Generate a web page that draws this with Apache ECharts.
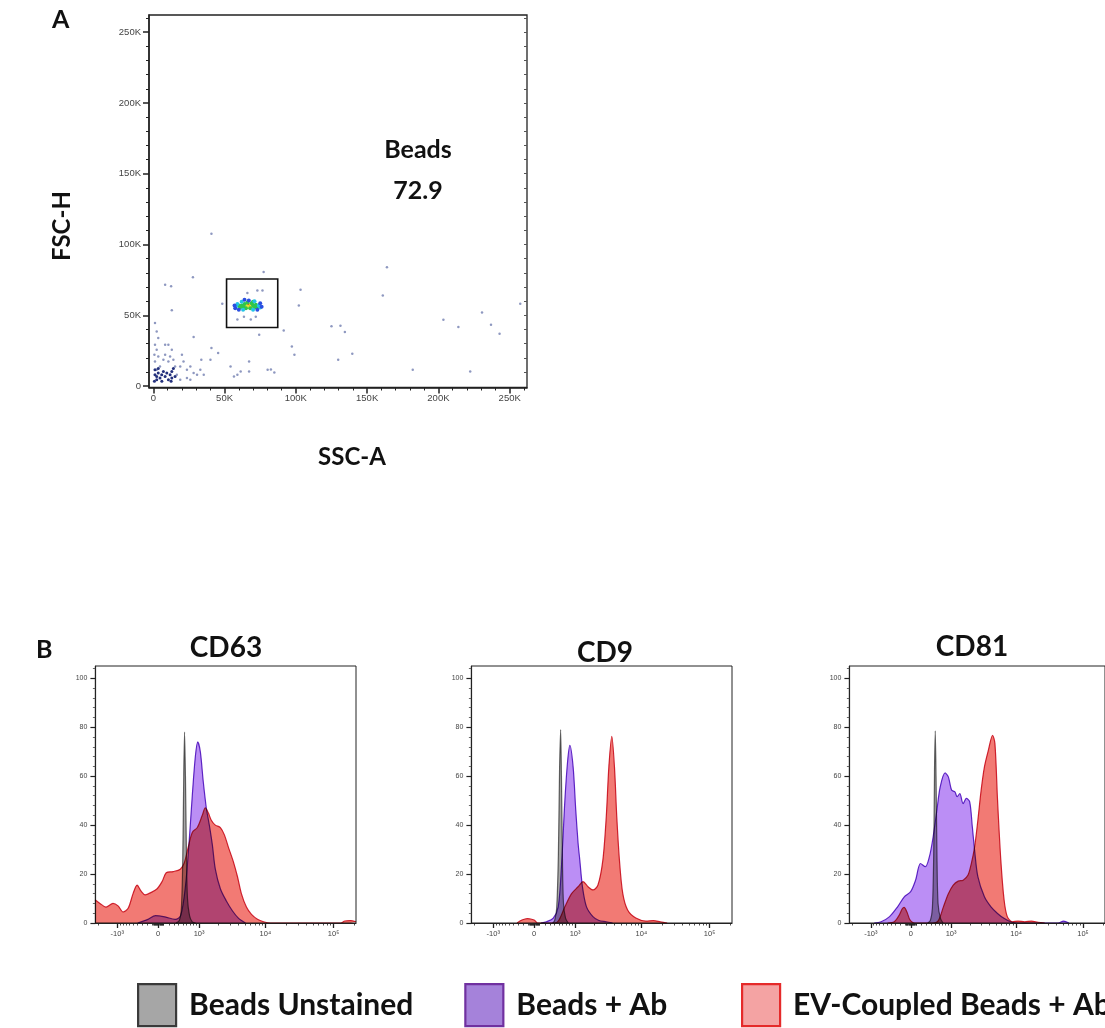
<!DOCTYPE html>
<html>
<head>
<meta charset="utf-8">
<script src="https://cdn.jsdelivr.net/npm/echarts@6/dist/echarts.min.js"></script>
<style>
html,body{margin:0;padding:0;background:#fff;}
#chart{width:1105px;height:1028px;}
</style>
</head>
<body>
<div id="chart"></div>
<script>
// ---------------- DATA ----------------
// Panel A: events [SSC-A (K), FSC-H (K), density level]
// level 0 = sparse event, 1 = dense debris, 2..6 = gate density blue->red
const sparseEvents = [
  [40.8,107.7,0],[27.8,76.8,0],[8.3,71.6,0],[12.5,70.5,0],[13,53.5,0],[77.4,80.6,0],[48.4,58.2,0],
  [74.3,36.3,0],[28.3,34.6,0],[163.9,83.9,0],[161,64,0],[103.3,68.1,0],[102.1,57,0],[91.5,39.3,0],
  [97.2,28,0],[99,22.1,0],[84.9,9.6,0],[125,42.2,0],[131.3,42.6,0],[134.4,38.2,0],[139.6,22.8,0],
  [129.7,18.6,0],[182,11.5,0],[203.5,46.9,0],[214,41.7,0],[230.6,52,0],[236.9,43.4,0],[242.9,37,0],
  [257.4,58.2,0],[222.3,10.3,0],[82.5,11.7,0],[40.8,26.9,0],[45.5,23.3,0],[33.7,18.6,0],[40.1,18.6,0],
  [54.2,13.9,0],[67.2,17.4,0],[59,8,0],[61.3,10.3,0],[67.2,10.3,0],[80.2,11.5,0],[56.6,6.8,0],
  [66,65.8,0],[73,67.6,0],[76.6,67.6,0],[59,47,0],[63.6,49,0],[68.4,47,0],[71.9,49,0],
  [1.2,44.5,0],[2.4,38.6,0],[3.5,33.9,0],[1.2,29.2,0],[2.4,25.7,0],[0.8,22.1,0],[3.5,20.9,0],
  [1.2,17.4,0],[4.7,13.9,0],[2.4,11.5,0],
  [8.3,29.2,0],[10.6,29.2,0],[13,25.7,0],[8.3,22.1,0],[11.8,20.9,0],[7.1,18.6,0],[10.6,17.4,0],
  [14.1,18.6,0],[18.9,13.9,0],[20.1,22.1,0],[21.2,17.4,0],[23.6,11.5,0],[26,13.9,0],[28.3,9.2,0],
  [30.7,8,0],[33,11.5,0],[35.4,8,0],[16.5,8,0],[15.3,13.9,0],[23.6,5.7,0],[18.9,4.5,0],[26,4.5,0]
];
const debrisEvents = [
  [1.2,8,1],[2.4,6.8,1],[3.5,9.2,1],[4.7,5.7,1],[2.4,4.5,1],[5.9,8,1],[7.1,10.3,1],[1.2,11.5,1],
  [8.3,6.8,1],[10.6,4.5,1],[11.8,8,1],[13,10.3,1],[13,5.7,1],[14.1,12.5,1],[12.5,3.4,1],[9.5,9.2,1],
  [3.5,12.5,1],[0.8,3.4,1],[6,3.5,1],[15.3,6.8,1]
];
const beadEvents = [
  [66,57,6],[67,56.5,6],[68,57,6],[67.5,57.5,6],
  [65,57,5],[69,56,5],[66.5,56,5],[68.5,58,5],
  [63,56,4],[64,58,4],[70,57,4],[71,55.5,4],[62,57,4],[65,55,4],[69,58.5,4],[66,59,4],[72,57.5,4],
  [64,55,4],[68,55,4],[60,57,4],[61,55.5,4],[73,56,4],[70,59.5,4],
  [59,58,3],[58,56,3],[74,57,3],[75,55.5,3],[62,59.5,3],[71,60,3],[63,54,3],[70,54,3],
  [57,57,2],[76,56,2],[60,54,2],[73,54,2],[67,60.5,2],[64,61,2],[57.5,55,2],[75,58.5,2]
];
const gateBox = [51.4, 41.4, 87.3, 75.7]; // SSC-A from/to, FSC-H from/to (K)
const scatterTicks = [0, 50, 100, 150, 200, 250]; // K

// Panel B: histograms, x in display (biexponential) units, y = % of max
const histTitles = ['CD63', 'CD9', 'CD81'];
const seriesNames = ['Beads Unstained', 'Beads + Ab', 'EV-Coupled Beads + Ab'];
const cd63Unstained = [[0.26,0],[0.31,1],[0.34,6],[0.36,25],[0.375,60],[0.387,78],[0.40,60],[0.415,28],[0.43,10],[0.46,3],[0.50,0.5],[0.55,0]];
const cd63Ab = [[-0.3,0],[-0.15,1.5],[-0.04,3],[0.1,2.5],[0.25,1.5],[0.33,3],[0.40,15],[0.456,34],[0.5,52],[0.545,68],[0.58,74],[0.618,70],[0.66,58],[0.706,47],[0.75,40],[0.794,32],[0.838,22],[0.912,14],[1.0,9],[1.088,5],[1.176,2],[1.28,0]];
const cd63Ev = [[-0.926,9.5],[-0.853,8],[-0.765,6.5],[-0.662,8],[-0.588,7],[-0.515,4.5],[-0.44,6],[-0.368,12],[-0.309,15.5],[-0.25,13],[-0.191,11.5],[-0.103,12.5],[-0.015,14],[0.059,17],[0.118,20.5],[0.22,21],[0.324,22],[0.382,24.5],[0.441,31],[0.5,37],[0.574,39],[0.647,44],[0.691,47],[0.735,45],[0.779,42],[0.838,40],[0.912,39],[0.971,36],[1.029,31],[1.103,25],[1.162,19],[1.22,12],[1.294,6.5],[1.368,3.5],[1.456,1.5],[1.544,0.5],[1.647,0],[2.676,0],[2.735,0.8],[2.82,1],[2.9,0.5]];
const cd9Unstained = [[0.27,0],[0.30,1],[0.33,6],[0.355,28],[0.372,62],[0.388,79],[0.40,60],[0.415,25],[0.43,8],[0.46,2],[0.5,0]];
const cd9Ab = [[0.1,0],[0.18,0.5],[0.28,2],[0.353,6.6],[0.40,23],[0.45,50],[0.49,66],[0.523,72.6],[0.571,63.8],[0.61,46],[0.644,32.6],[0.669,25.7],[0.708,14.8],[0.766,6.7],[0.862,2.6],[0.95,1],[1.057,0.5],[1.15,0]];
const cd9Ev = [[-0.25,0],[-0.18,1.2],[-0.1,1.8],[0.0,1.2],[0.05,0],[0.3,0],[0.36,1],[0.45,6.6],[0.548,12],[0.644,14.8],[0.717,16.9],[0.79,14.8],[0.862,13.5],[0.935,15.5],[1.007,25.7],[1.057,43.4],[1.095,63.8],[1.138,76.3],[1.177,63.8],[1.211,43.4],[1.25,25.7],[1.298,12.2],[1.37,5.3],[1.49,2],[1.638,0.8],[1.75,1],[1.85,0.5],[1.95,0]];
const cd81Unstained = [[0.25,0],[0.29,1],[0.32,6],[0.34,28],[0.352,62],[0.363,78.5],[0.375,60],[0.39,25],[0.405,8],[0.44,2],[0.48,0]];
const cd81Ab = [[-0.55,0],[-0.446,0.5],[-0.32,2.6],[-0.2,6.6],[-0.1,10.7],[-0.005,12.8],[0.069,17.5],[0.143,24.3],[0.216,23],[0.275,27],[0.324,33.9],[0.387,46],[0.437,55.6],[0.51,61.3],[0.559,59.7],[0.607,54.3],[0.657,53.6],[0.69,51.6],[0.73,52.9],[0.779,48.8],[0.828,50.9],[0.878,49.5],[0.917,39.3],[0.951,29.8],[1.0,18.9],[1.098,10.7],[1.196,6.6],[1.294,3.9],[1.39,1.9],[1.49,0.5],[1.6,0],[2.2,0],[2.28,0.8],[2.36,0]];
const cd81Ev = [[-0.35,0],[-0.25,0.5],[-0.18,3],[-0.13,5.8],[-0.103,6.4],[-0.06,4.5],[-0.02,1.5],[0.02,0.3],[0.06,0],[0.33,0],[0.41,1],[0.485,6.6],[0.559,12],[0.632,15.5],[0.706,17.1],[0.78,17.5],[0.853,19.6],[0.902,24.3],[0.951,31],[1.0,42],[1.049,54.3],[1.098,63.8],[1.157,70.6],[1.22,76.7],[1.255,73.3],[1.294,50.2],[1.343,25.7],[1.392,9.4],[1.44,2.6],[1.515,0.5],[1.6,0.8],[1.7,0.5],[1.8,0.8],[1.9,0.3],[2.0,0]];
const histData = [[cd63Unstained, cd63Ab, cd63Ev],[cd9Unstained, cd9Ab, cd9Ev],[cd81Unstained, cd81Ab, cd81Ev]];
const histTickRaw = [-1000, 0, 1000, 10000, 100000];
const histTickLabels = ['-10³', '0', '10³', '10⁴', '10⁵'];
const histYTicks = [0, 20, 40, 60, 80, 100];

// ---------------- STYLE ----------------
const T = v => Math.asinh(v / 537) / Math.LN10;   // biexponential-like display transform
const fills = ['#a8a8a8', '#bb8ef5', '#f27a74'];
const lines = ['#6e6e6e', '#6a2cc8', '#d42a3c'];
const legendFill = ['#a6a6a6', '#a582da', '#f4a3a3'];
const legendBorder = ['#3a3a3a', '#7030a0', '#e52a2a'];
const axisCol = '#222';
const tickFont = 'Liberation Sans, Arial, sans-serif';
const bold = 'Lato, "Open Sans", sans-serif';

const histMajor = histTickRaw.map(T);
const histMinorRaw = [-2000,-900,-800,-700,-600,-500,-400,-300,-200,-100,-90,-80,-70,-60,-50,-40,-30,-20,-10,
 10,20,30,40,50,60,70,80,90,100,200,300,400,500,600,700,800,900,
 2000,3000,4000,5000,6000,7000,8000,9000,20000,30000,40000,50000,60000,70000,80000,90000,200000];
const histMinor = histMinorRaw.map(T);
const yMinor = []; for (let v = 4; v <= 104; v += 4) if (v % 20) yMinor.push(v);
const scMinor = []; for (let v = 10; v <= 260; v += 10) if (v % 50) scMinor.push(v * 1000);

const grids = [
  {left: 149, right: 578, top: 15, bottom: 640.5, show: true, borderColor: axisCol, borderWidth: 1.3},
  {left: 95.4, right: 749, top: 666, bottom: 105, show: true, borderColor: axisCol, borderWidth: 1},
  {left: 471.4, right: 373, top: 666, bottom: 105, show: true, borderColor: axisCol, borderWidth: 1},
  {left: 849.4, right: -5, top: 666, bottom: 105, show: true, borderColor: axisCol, borderWidth: 1}
];

const xAxes = [], yAxes = [];
// Panel A axes
xAxes.push({gridIndex: 0, type: 'value', position: 'bottom', min: -3000, max: 262144, splitLine: {show: false},
  axisLine: {onZero: false, lineStyle: {color: axisCol, width: 1.5}},
  axisTick: {customValues: scatterTicks.map(v => v * 1000), length: 6, lineStyle: {color: axisCol, width: 1.5}},
  axisLabel: {customValues: scatterTicks.map(v => v * 1000), formatter: v => v === 0 ? '0' : (v / 1000) + 'K',
    fontFamily: tickFont, fontSize: 9.5, color: '#444', margin: 6}});
xAxes.push({gridIndex: 0, type: 'value', position: 'bottom', min: -3000, max: 262144, splitLine: {show: false},
  axisLine: {show: false, onZero: false}, axisLabel: {show: false},
  axisTick: {customValues: scMinor, length: 3, lineStyle: {color: axisCol, width: 1}}});
yAxes.push({gridIndex: 0, type: 'value', position: 'left', min: -1000, max: 262144, splitLine: {show: false},
  axisLine: {onZero: false, lineStyle: {color: axisCol, width: 1.5}},
  axisTick: {customValues: scatterTicks.map(v => v * 1000), length: 6, lineStyle: {color: axisCol, width: 1.5}},
  axisLabel: {customValues: scatterTicks.map(v => v * 1000), formatter: v => v === 0 ? '0' : (v / 1000) + 'K',
    fontFamily: tickFont, fontSize: 9.5, color: '#444', margin: 8}});
yAxes.push({gridIndex: 0, type: 'value', position: 'left', min: -1000, max: 262144, splitLine: {show: false},
  axisLine: {show: false, onZero: false}, axisLabel: {show: false},
  axisTick: {customValues: scMinor, length: 3, lineStyle: {color: axisCol, width: 1}}});
yAxes.push({gridIndex: 0, type: 'value', position: 'right', min: -1000, max: 262144, splitLine: {show: false},
  axisLine: {show: false, onZero: false}, axisLabel: {show: false},
  axisTick: {inside: true, customValues: scMinor.concat(scatterTicks.slice(1).map(v => v * 1000)), length: 3, lineStyle: {color: '#555', width: 1}}});

// Panel B axes
for (let g = 1; g <= 3; g++) {
  xAxes.push({gridIndex: g, type: 'value', position: 'bottom', min: -0.92, max: 2.9, splitLine: {show: false},
    axisLine: {onZero: false, lineStyle: {color: axisCol, width: 1.2}},
    axisTick: {customValues: histMajor, length: 5, lineStyle: {color: axisCol, width: 1.3}},
    axisLabel: {customValues: histMajor, fontFamily: tickFont, fontSize: 7.5, color: '#444', margin: 7,
      formatter: v => { let b = 0; histMajor.forEach((m, i) => { if (Math.abs(m - v) < Math.abs(histMajor[b] - v)) b = i; }); return histTickLabels[b]; }}});
  xAxes.push({gridIndex: g, type: 'value', position: 'bottom', min: -0.92, max: 2.9, splitLine: {show: false},
    axisLine: {show: false, onZero: false}, axisLabel: {show: false},
    axisTick: {customValues: histMinor, length: 2.5, lineStyle: {color: axisCol, width: 0.8}}});
  yAxes.push({gridIndex: g, type: 'value', position: 'left', min: 0, max: 105, splitLine: {show: false},
    axisLine: {onZero: false, lineStyle: {color: axisCol, width: 1.2}},
    axisTick: {customValues: histYTicks, length: 5, lineStyle: {color: axisCol, width: 1.2}},
    axisLabel: {customValues: histYTicks, fontFamily: tickFont, fontSize: 7, color: '#444', margin: 8}});
  yAxes.push({gridIndex: g, type: 'value', position: 'left', min: 0, max: 105, splitLine: {show: false},
    axisLine: {show: false, onZero: false}, axisLabel: {show: false},
    axisTick: {customValues: yMinor, length: 2.5, lineStyle: {color: '#444', width: 0.8}}});
}

const series = [];
series.push({
  type: 'scatter', xAxisIndex: 0, yAxisIndex: 0, silent: true,
  data: sparseEvents.concat(debrisEvents, beadEvents).map(p => [p[0] * 1000, p[1] * 1000, p[2]]),
  symbolSize: p => p[2] === 0 ? 2.5 : (p[2] === 1 ? 3 : 4),
  itemStyle: {opacity: 1},
  markArea: {silent: true, itemStyle: {color: 'rgba(0,0,0,0)', borderColor: '#111', borderWidth: 1.6},
    data: [[{coord: [gateBox[0] * 1000, gateBox[1] * 1000]}, {coord: [gateBox[2] * 1000, gateBox[3] * 1000]}]]}
});
const order = [2, 1, 0];
for (let g = 0; g < 3; g++) {
  order.forEach(s => {
    series.push({
      name: seriesNames[s], type: 'line', xAxisIndex: 2 + g * 2, yAxisIndex: 3 + g * 2,
      data: histData[g][s], showSymbol: false, smooth: 0.3, silent: true,
      blendMode: 'multiply',
      itemStyle: {color: fills[s]},
      lineStyle: {color: lines[s], width: 1.2},
      areaStyle: {color: fills[s], opacity: 1}
    });
  });
}

const graphics = [
  {type: 'text', left: 52, top: 7, style: {text: 'A', font: 'bold 25px ' + bold, fill: '#111'}},
  {type: 'text', left: 36, top: 637, style: {text: 'B', font: 'bold 25px ' + bold, fill: '#111'}},
  {type: 'text', x: 418, y: 150, style: {text: 'Beads', font: 'bold 25px ' + bold, fill: '#111', align: 'center', verticalAlign: 'middle'}},
  {type: 'text', x: 418, y: 191, style: {text: '72.9', font: 'bold 25px ' + bold, fill: '#111', align: 'center', verticalAlign: 'middle'}},
  {type: 'text', x: 62, y: 226, rotation: Math.PI / 2, style: {text: 'FSC-H', font: 'bold 24px ' + bold, fill: '#111', align: 'center', verticalAlign: 'middle'}},
  {type: 'text', x: 352, y: 457, style: {text: 'SSC-A', font: 'bold 24px ' + bold, fill: '#111', align: 'center', verticalAlign: 'middle'}},
  {type: 'text', x: 226, y: 648, style: {text: histTitles[0], font: 'bold 28px ' + bold, fill: '#111', align: 'center', verticalAlign: 'middle'}},
  {type: 'text', x: 605, y: 653, style: {text: histTitles[1], font: 'bold 28px ' + bold, fill: '#111', align: 'center', verticalAlign: 'middle'}},
  {type: 'text', x: 972, y: 647, style: {text: histTitles[2], font: 'bold 28px ' + bold, fill: '#111', align: 'center', verticalAlign: 'middle'}}
];

const legendBase = {
  top: 983, width: 1000, padding: 0, itemWidth: 38, itemHeight: 42, itemGap: 51, icon: 'rect', selectedMode: false,
  textStyle: {fontFamily: bold, fontWeight: 'bold', fontSize: 30, color: '#111', padding: [4, 0, 0, 8]}
};
const legendItem = i => ({name: seriesNames[i],
  itemStyle: {color: legendFill[i], borderColor: legendBorder[i], borderWidth: 2.2}});

const chart = echarts.init(document.getElementById('chart'), null, {renderer: 'canvas'});
chart.setOption({
  animation: false,
  backgroundColor: '#fff',
  grid: grids,
  xAxis: xAxes,
  yAxis: yAxes,
  visualMap: {type: 'piecewise', show: false, seriesIndex: 0, dimension: 2,
    pieces: [
      {value: 0, color: '#8e98c0'}, {value: 1, color: '#23307c'}, {value: 2, color: '#2a4fe0'},
      {value: 3, color: '#22c4e6'}, {value: 4, color: '#2fc64c'}, {value: 5, color: '#e6e030'}, {value: 6, color: '#e8401e'}
    ]},
  legend: [
    Object.assign({}, legendBase, {left: 137, data: [legendItem(0), legendItem(1)]}),
    Object.assign({}, legendBase, {left: 741, data: [legendItem(2)]})
  ],
  graphic: graphics,
  series: series
});
</script>
</body>
</html>
